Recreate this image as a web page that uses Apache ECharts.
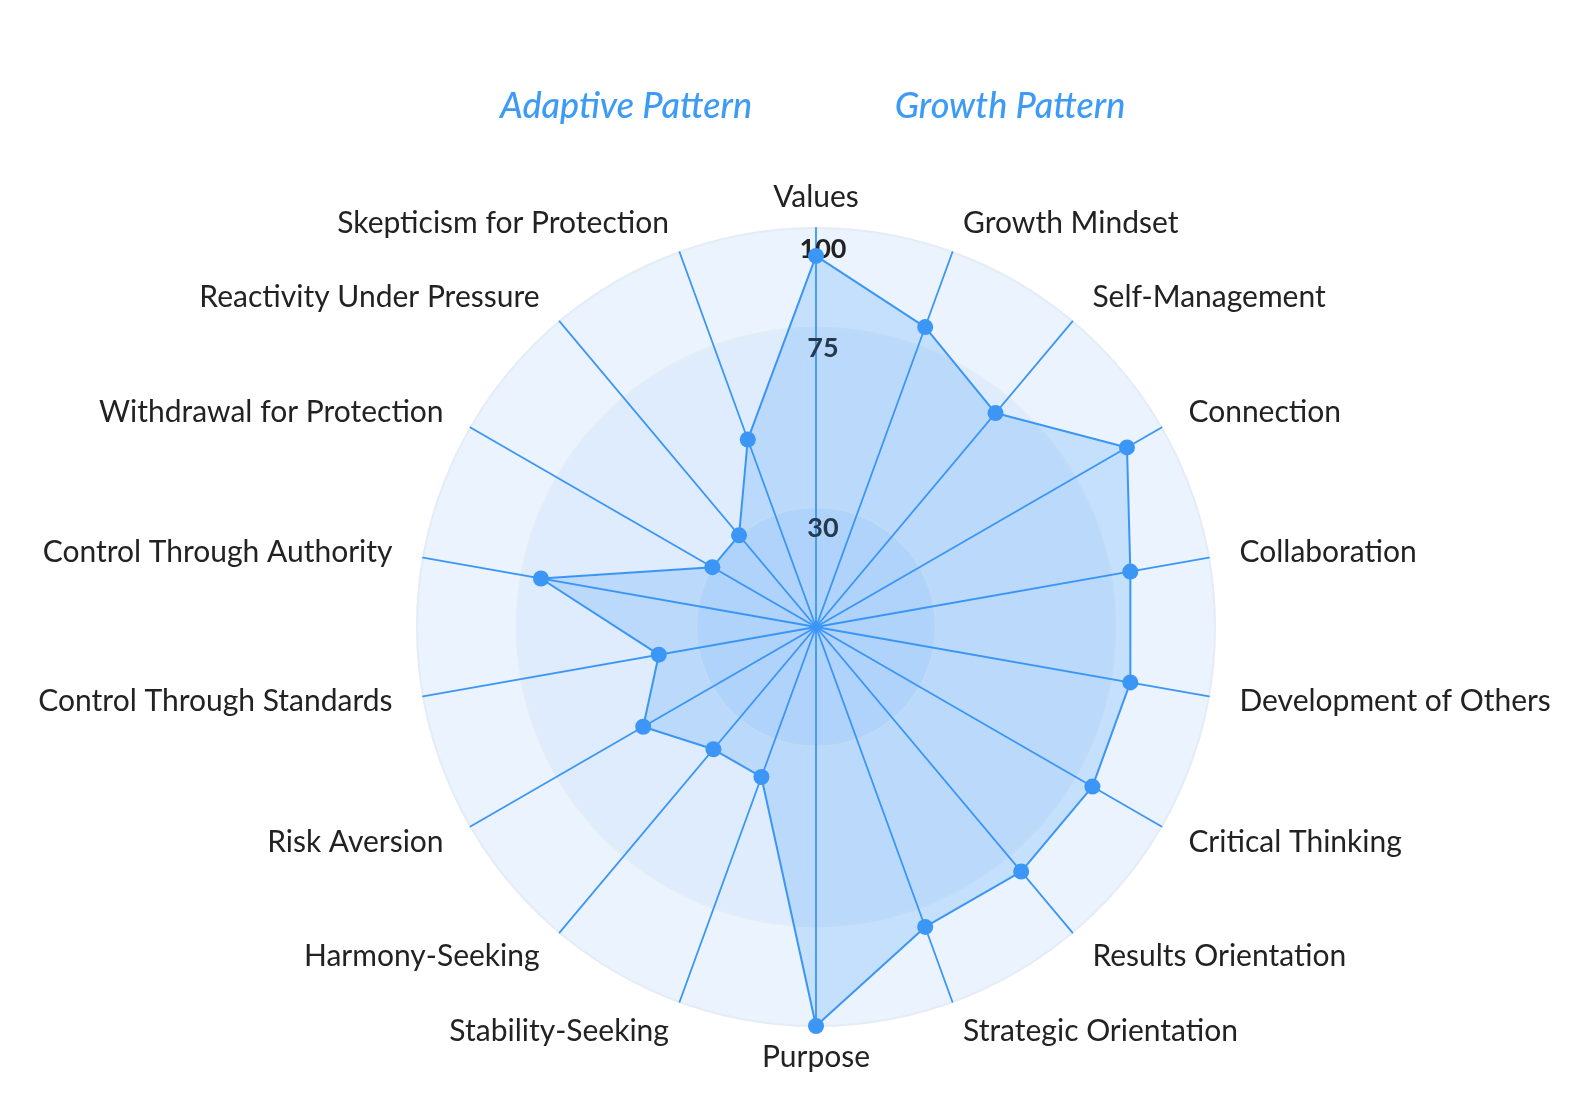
<!DOCTYPE html>
<html>
<head>
<meta charset="utf-8">
<title>Adaptive / Growth Pattern radar</title>
<script src="https://cdn.jsdelivr.net/npm/echarts@6/dist/echarts.min.js"></script>
<style>
  html, body { margin: 0; padding: 0; background: #fff; }
  #chart { width: 1578px; height: 1114px; }
</style>
</head>
<body>
<div id="chart"></div>
<script>
// indicators in ECharts order: start at the top, then counter-clockwise
const indicatorNames = [
    'Values',
    'Skepticism for Protection',
    'Reactivity Under Pressure',
    'Withdrawal for Protection',
    'Control Through Authority',
    'Control Through Standards',
    'Risk Aversion',
    'Harmony-Seeking',
    'Stability-Seeking',
    'Purpose',
    'Strategic Orientation',
    'Results Orientation',
    'Critical Thinking',
    'Development of Others',
    'Collaboration',
    'Connection',
    'Self-Management',
    'Growth Mindset'
];
const scores = [93, 50, 30, 30, 70, 40, 50, 40, 40, 100, 80, 80, 80, 80, 80, 90, 70, 80];
const scaleMax = 100;
const tickStep = 5;
const ringBreaks = [30, 75, 100]; // labelled rings
const patternTitles = ['Adaptive Pattern', 'Growth Pattern'];

const blue = '#3b96f6';
const bandColors = ['#cfe3fc', '#deecfd', '#ebf4fe']; // inner -> outer
const center = [816, 627];
const radius = 399;

// background discs: one radar per ring, largest first so smaller ones sit on top
const bgRadars = ringBreaks.slice().reverse().map(function (b, i) {
    return {
        z: 0,
        center: center,
        radius: radius * b / scaleMax,
        startAngle: 90,
        shape: 'circle',
        splitNumber: 1,
        axisName: { show: false },
        axisLine: { show: false },
        axisTick: { show: false },
        axisLabel: { show: false },
        splitLine: { lineStyle: { color: '#e4ecf6', width: 2 } },
        splitArea: { areaStyle: { color: [bandColors[ringBreaks.length - 1 - i]] } },
        indicator: indicatorNames.map(function (n) { return { name: n, min: 0, max: scaleMax }; })
    };
});

const indicator = indicatorNames.map(function (name, i) {
    const item = { name: name, min: 0, max: scaleMax };
    if (i === 0) {
        item.axisLabel = { show: true }; // only the top axis carries the ring labels
    }
    return item;
});

const mainRadar = {
    z: 1,
    center: center,
    radius: radius,
    startAngle: 90,
    shape: 'circle',
    splitNumber: scaleMax / tickStep,
    axisNameGap: 31,
    axisName: {
        color: '#222',
        fontSize: 30,
        fontFamily: 'Lato',
        verticalAlign: 'middle',
        padding: [10, 0, 0, 0]
    },
    axisLine: { lineStyle: { color: blue, width: 1.8 } },
    axisTick: { show: false },
    axisLabel: {
        show: false,
        color: '#222',
        fontSize: 27,
        fontWeight: 'bold',
        fontFamily: 'Lato',
        align: 'center',
        verticalAlign: 'top',
        lineHeight: 28,
        padding: [7, 0, 0, 0],
        margin: -7,
        formatter: function (v) {
            return ringBreaks.indexOf(Math.round(v)) >= 0 ? String(Math.round(v)) : '';
        }
    },
    splitLine: { show: false },
    splitArea: { show: false },
    indicator: indicator
};

const chart = echarts.init(document.getElementById('chart'));
chart.setOption({
    backgroundColor: '#fff',
    animation: false,
    graphic: patternTitles.map(function (t, i) {
        return {
            type: 'text',
            x: [626, 1010][i],
            y: 106,
            style: {
                text: t,
                fill: '#3d9bf5',
                fontSize: 36,
                fontStyle: 'italic',
                fontWeight: 500,
                fontFamily: 'Lato',
                align: 'center',
                verticalAlign: 'middle'
            }
        };
    }),
    radar: bgRadars.concat([mainRadar]),
    series: [{
        type: 'radar',
        radarIndex: bgRadars.length,
        symbol: 'circle',
        symbolSize: 16,
        itemStyle: { color: blue },
        lineStyle: { color: blue, width: 2 },
        areaStyle: { color: 'rgba(59,150,246,0.3)' },
        data: [{ value: scores, name: 'Score' }]
    }]
});
</script>
</body>
</html>
